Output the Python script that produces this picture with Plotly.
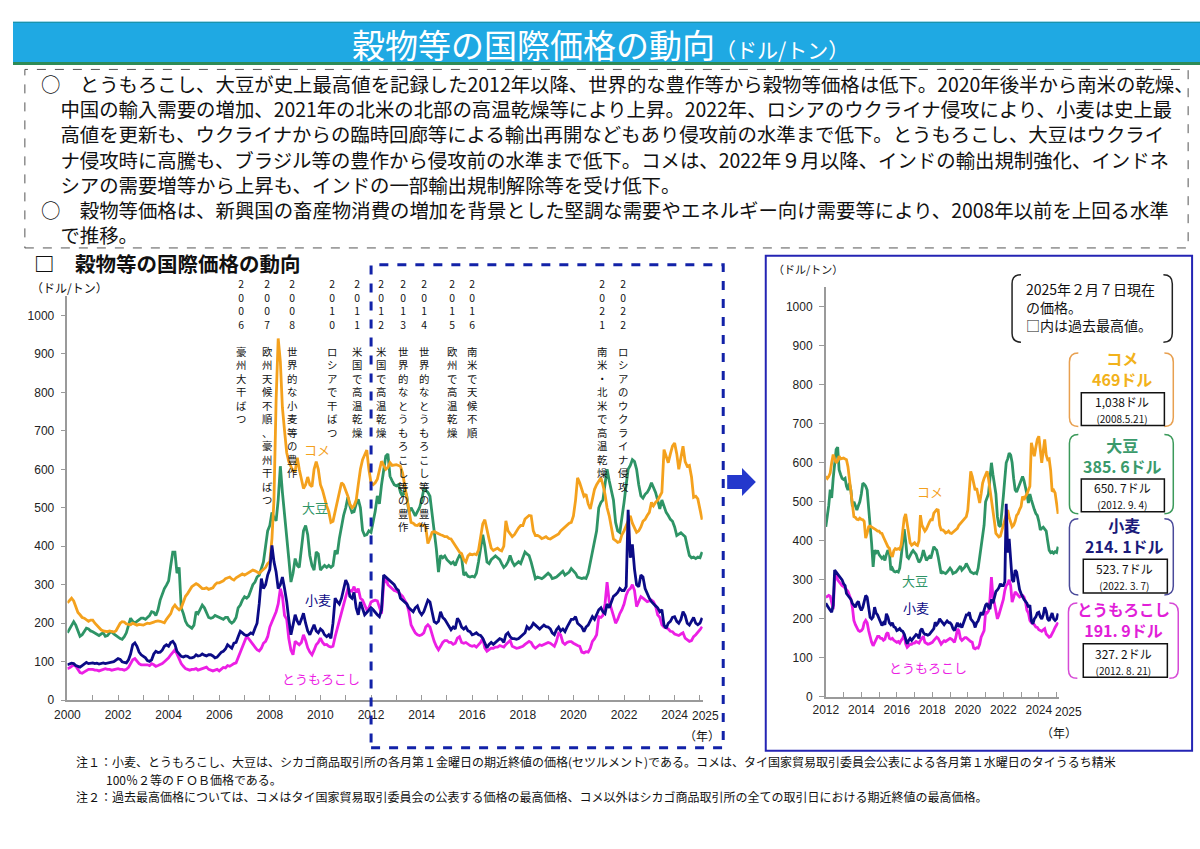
import pandas as pd
import plotly.graph_objects as go

# ---------------- DATA (monthly, Jan 2000 - Feb 2025, US$/t) ----------------
rice = [
 253,260,265,258,240,228,222,215,213,210,205,208,
 208,200,195,188,183,180,178,178,180,179,177,180,
 190,200,204,203,198,196,196,200,198,195,197,195,
 195,198,200,199,200,203,205,206,205,202,201,210,
 217,225,240,247,240,235,240,255,270,277,285,295,
 299,303,300,295,290,290,292,288,290,292,300,305,
 305,308,310,316,318,320,315,312,318,322,325,328,
 325,328,330,335,338,336,332,330,335,340,345,355,
 360,420,520,780,940,880,760,700,643,620,605,595,
 595,630,600,570,550,560,580,560,555,600,620,600,
 560,545,523,505,490,462,465,490,520,545,565,560,
 545,530,510,500,505,520,560,600,625,640,650,600,
 565,560,565,574,600,621,610,600,605,617,610,612,
 612,610,608,590,560,531,500,462,460,455,454,458,
 455,454,450,407,420,436,438,436,432,430,428,425,
 425,420,419,410,400,393,385,381,365,359,375,380,
 378,380,378,390,420,458,469,440,418,395,389,392,
 395,390,388,400,466,440,432,425,430,440,448,454,
 454,471,475,480,479,440,428,428,425,420,422,425,
 420,419,422,425,430,432,440,445,449,455,460,462,
 479,520,578,565,545,530,535,510,497,520,548,560,
 570,578,560,535,500,479,450,419,415,410,412,430,
 440,454,465,479,460,445,436,440,450,465,470,480,
 488,514,505,514,520,530,540,651,630,617,640,660,
 668,640,600,630,660,620,608,610,580,527,530,523,
 500,469,
]
soybean = [
 175,185,195,204,195,180,166,170,178,187,185,180,
 178,174,170,168,172,175,166,168,175,178,172,168,
 163,160,158,165,175,195,213,205,200,205,208,213,
 213,210,215,220,230,228,220,235,260,275,290,299,
 310,350,385,385,330,345,240,225,205,195,190,187,
 195,230,225,235,247,240,225,215,213,215,220,218,
 215,213,210,215,215,205,200,205,215,240,247,260,
 269,265,270,285,300,307,320,325,340,359,400,440,
 454,488,475,466,520,608,540,488,420,368,307,330,
 368,350,345,400,440,454,430,376,350,338,385,380,
 338,345,350,345,350,345,350,389,380,420,454,480,
 500,527,505,488,490,510,522,500,441,428,430,440,
 436,460,490,531,510,560,600,634,640,582,570,560,
 557,560,540,530,548,530,488,500,490,479,490,500,
 520,548,545,540,530,488,440,393,333,376,370,375,
 365,360,355,359,350,365,376,370,325,330,322,320,
 322,320,330,360,400,430,400,359,355,365,370,375,
 370,365,355,345,350,360,376,360,350,355,360,355,
 370,385,380,376,359,340,316,320,318,316,320,325,
 330,325,316,318,320,325,330,335,325,330,333,342,
 335,330,320,318,316,318,316,330,360,390,420,440,
 500,514,520,560,600,570,540,520,462,440,436,470,
 514,560,600,610,625,620,600,560,531,525,535,540,
 550,565,555,540,520,497,520,505,488,480,470,465,
 450,428,432,435,430,425,400,376,370,372,368,372,
 370,385,
]
wheat = [
 92,94,96,95,90,88,86,90,95,98,95,96,
 97,95,96,94,95,97,95,97,98,99,100,103,
 108,106,100,98,97,105,120,144,149,140,125,118,
 115,110,103,101,105,120,127,124,125,130,140,144,
 140,150,153,145,127,120,114,112,115,114,110,110,
 112,118,115,116,120,117,115,118,118,115,110,112,
 118,125,127,133,144,140,135,148,150,165,179,175,
 170,168,170,175,172,187,200,250,316,290,300,325,
 340,402,360,333,290,300,320,290,256,210,170,195,
 222,205,196,210,226,200,180,170,185,196,180,175,
 185,180,170,165,170,161,200,265,256,250,265,290,
 312,300,270,265,280,240,222,255,240,222,228,235,
 240,235,228,222,217,235,325,320,315,310,307,300,
 290,285,265,260,255,250,240,235,230,240,245,230,
 222,230,245,260,255,230,204,200,205,230,215,210,
 200,190,183,190,185,213,205,190,185,190,180,178,
 170,172,175,170,168,161,150,136,145,150,145,150,
 155,160,158,150,170,175,165,160,160,158,160,165,
 170,175,191,185,190,200,195,191,185,190,195,191,
 190,185,175,170,183,190,180,185,178,190,200,210,
 210,217,200,196,190,178,190,195,205,217,210,222,
 235,240,230,225,250,240,256,270,274,280,290,285,
 285,295,495,370,405,340,300,295,325,320,290,275,
 265,256,250,245,240,230,235,195,187,200,205,215,
 217,205,200,210,230,220,200,195,205,215,200,196,
 200,214,
]
corn = [
 82,84,88,92,88,80,72,70,74,78,80,80,
 80,78,78,76,78,80,82,80,80,78,80,82,
 82,80,80,78,80,85,95,105,108,100,95,92,
 92,93,92,90,95,92,88,90,92,95,100,105,
 110,118,125,131,120,105,95,88,82,80,78,80,
 80,82,78,80,82,85,86,80,78,76,78,80,
 76,80,85,84,90,88,92,95,97,110,127,136,
 150,166,160,153,145,140,131,128,135,148,153,165,
 190,204,215,230,250,290,270,220,210,160,130,118,
 153,148,144,150,170,155,136,125,118,130,144,150,
 161,150,144,145,140,138,140,165,187,210,230,250,
 270,290,285,283,295,280,290,265,260,245,235,239,
 255,258,260,258,240,225,300,320,300,295,290,285,
 283,280,275,270,260,250,230,196,185,175,170,168,
 170,175,190,196,190,170,153,140,131,140,150,155,
 155,150,150,145,148,161,165,150,148,150,145,142,
 140,142,138,145,150,161,136,127,130,135,135,138,
 138,142,140,138,145,150,155,140,138,135,136,138,
 140,145,150,153,150,140,135,140,144,142,145,146,
 150,148,145,140,153,174,170,150,145,150,152,152,
 148,144,142,140,125,123,126,125,135,153,160,170,
 217,215,220,250,307,256,240,220,200,210,225,235,
 250,273,285,290,300,285,243,255,269,265,260,256,
 258,260,256,245,222,215,196,190,188,185,179,178,
 172,170,168,172,175,161,158,153,155,165,170,178,
 183,191,
]
months = pd.date_range("2000-01-01", periods=len(rice), freq="MS")

series_names = ["大豆", "コメ", "とうもろこし", "小麦"]
left_years = list(range(2000, 2026))
left_labels = [str(y) if y % 2 == 0 else "" for y in left_years]
right_years = list(range(2012, 2026))
right_labels = [str(y) if y % 2 == 0 else "" for y in right_years]
last_year_label = "2025"
y_ticks = list(range(0, 1001, 100))

event_years = ["2006", "2007", "2008", "2010", "2011", "2012", "2013", "2014",
               "2015", "2016", "2021", "2022"]
event_texts = ["豪州大干ばつ", "欧州天候不順、豪州干ばつ", "世界的な小麦等の豊作",
               "ロシアで干ばつ", "米国で高温乾燥", "米国で高温乾燥",
               "世界的なとうもろこし等の豊作", "世界的なとうもろこし等の豊作",
               "欧州で高温乾燥", "南米で天候不順", "南米・北米で高温乾燥",
               "ロシアのウクライナ侵攻"]

latest_price = ["469ドル", "385. 6ドル", "214. 1ドル", "191. 9ドル"]
record_price = ["1,038ドル", "650. 7ドル", "523. 7ドル", "327. 2ドル"]
record_date = ["(2008.5.21)", "(2012. 9. 4)", "(2022. 3. 7)", "(2012. 8. 21)"]
box_names = ["コメ", "大豆", "小麦", "とうもろこし"]
note_lines = ["2025年２月７日現在", "の価格。", "□内は過去最高値。"]

body_lines = [
    "○　とうもろこし、大豆が史上最高値を記録した2012年以降、世界的な豊作等から穀物等価格は低下。2020年後半から南米の乾燥、",
    "　中国の輸入需要の増加、2021年の北米の北部の高温乾燥等により上昇。2022年、ロシアのウクライナ侵攻により、小麦は史上最",
    "　高値を更新も、ウクライナからの臨時回廊等による輸出再開などもあり侵攻前の水準まで低下。とうもろこし、大豆はウクライ",
    "　ナ侵攻時に高騰も、ブラジル等の豊作から侵攻前の水準まで低下。コメは、2022年９月以降、インドの輸出規制強化、インドネ",
    "　シアの需要増等から上昇も、インドの一部輸出規制解除等を受け低下。",
    "○　穀物等価格は、新興国の畜産物消費の増加を背景とした堅調な需要やエネルギー向け需要等により、2008年以前を上回る水準",
    "　で推移。",
]
footnotes = [
    "注１：小麦、とうもろこし、大豆は、シカゴ商品取引所の各月第１金曜日の期近終値の価格(セツルメント)である。コメは、タイ国家貿易取引委員会公表による各月第１水曜日のタイうるち精米",
    "100％２等のＦＯＢ価格である。",
    "注２：過去最高価格については、コメはタイ国家貿易取引委員会の公表する価格の最高価格、コメ以外はシカゴ商品取引所の全ての取引日における期近終値の最高価格。",
]

# ---------------- STYLE ----------------
W, H = 1200, 849
JP = "Noto Sans CJK JP"
NUM = "Liberation Sans, Arial, sans-serif"
C_RICE, C_SOY, C_WHEAT, C_CORN = "#F4A11D", "#2E9466", "#0B0B86", "#EC1FE4"
colors = {"コメ": C_RICE, "大豆": C_SOY, "小麦": C_WHEAT, "とうもろこし": C_CORN}
values = {"コメ": rice, "大豆": soybean, "小麦": wheat, "とうもろこし": corn}


def fx(x):
    return x / W


def fy(y):
    return 1 - y / H


def P(x, y):
    return f"{fx(x):.5f},{fy(y):.5f}"


fig = go.Figure()
i12 = 144
for name in series_names:
    fig.add_trace(go.Scatter(x=months, y=values[name], mode="lines",
                             line=dict(color=colors[name], width=2.8),
                             xaxis="x", yaxis="y", showlegend=False, hoverinfo="skip"))
for name in series_names:
    fig.add_trace(go.Scatter(x=months[i12:], y=values[name][i12:], mode="lines",
                             line=dict(color=colors[name], width=2.8),
                             xaxis="x2", yaxis="y2", showlegend=False, hoverinfo="skip"))

axis_common = dict(showgrid=False, zeroline=False, showline=True, linecolor="#9a9a9a",
                   linewidth=1.5, tickcolor="#9a9a9a", ticklen=5,
                   tickfont=dict(family=NUM, size=12, color="#222"))

fig.update_layout(
    width=W, height=H, margin=dict(l=0, r=0, t=0, b=0),
    paper_bgcolor="white", plot_bgcolor="white", showlegend=False,
    xaxis=dict(domain=[fx(55), fx(697.3)], anchor="y", type="date",
               range=["2000-01-01", "2025-02-10"], tickangle=0,
               tickvals=[f"{y}-01-01" for y in left_years], ticktext=left_labels,
               ticks="inside", ticklabelstandoff=3, **axis_common),
    yaxis=dict(domain=[fy(706), fy(298.6)], anchor="x", range=[0, 1050],
               tickvals=y_ticks, ticks="outside", ticklabelstandoff=4, **axis_common),
    xaxis2=dict(domain=[fx(821.7), fx(1057)], anchor="y2", type="date",
                range=["2012-01-01", "2025-02-10"], tickangle=0,
                tickvals=[f"{y}-01-01" for y in right_years], ticktext=right_labels,
                ticks="inside", ticklabelstandoff=1, **axis_common),
    yaxis2=dict(domain=[fy(702.7), fy(289.6)], anchor="x2", range=[0, 1050],
                tickvals=y_ticks, ticks="outside", ticklabelstandoff=4, **axis_common),
)

shapes = []
anns = []


def rect(x0, y0, x1, y1, color=None, width=1, dash=None, fill=None):
    shapes.append(dict(type="rect", xref="paper", yref="paper",
                       x0=fx(x0), x1=fx(x1), y0=fy(y1), y1=fy(y0),
                       line=dict(color=color or "rgba(0,0,0,0)", width=width if color else 0,
                                 dash=dash),
                       fillcolor=fill or "rgba(0,0,0,0)"))


def hline(x0, x1, y, color, width):
    shapes.append(dict(type="line", xref="paper", yref="paper", x0=fx(x0), x1=fx(x1),
                       y0=fy(y), y1=fy(y), line=dict(color=color, width=width)))


def bracket(x0, x1, y0, y1, color, r=8, w=1.5):
    left = f"M{P(x0 + r, y0)} Q{P(x0, y0)} {P(x0, y0 + r)} L{P(x0, y1 - r)} Q{P(x0, y1)} {P(x0 + r, y1)}"
    right = f"M{P(x1 - r, y0)} Q{P(x1, y0)} {P(x1, y0 + r)} L{P(x1, y1 - r)} Q{P(x1, y1)} {P(x1 - r, y1)}"
    shapes.append(dict(type="path", xref="paper", yref="paper", path=left + " " + right,
                       line=dict(color=color, width=w)))


def ann(x, y, text, size=12, color="#111", xanchor="center", yanchor="middle",
        family=JP, bold=False, align="center"):
    t = f"<b>{text}</b>" if bold else text
    anns.append(dict(x=fx(x), y=fy(y), xref="paper", yref="paper", text=t, showarrow=False,
                     font=dict(size=size, color=color, family=family), align=align,
                     xanchor=xanchor, yanchor=yanchor, borderpad=0))


# title bar
rect(0, 22, 1200, 64, fill="#1FA9E3")
hline(0, 1200, 22.5, "#1a8fa0", 1)
hline(0, 1200, 64, "#2E8B57", 3)
ann(594, 44, "穀物等の国際価格の動向<span style='font-size:21px'>（ドル/トン）</span>",
    size=33, color="white")

# summary text box (one multi-line text block)
rect(12, 70, 1188, 250, color="#555", width=1, dash="dash")
ann(27, 160, "<br>".join(body_lines), size=19.4, xanchor="left", align="left")

# section heading
ann(20, 265, "□　穀物等の国際価格の動向", size=20.5, xanchor="left", bold=True)
ann(57, 290, "（ドル/トン）", size=12)
ann(697, 742, "（年）", size=12)
ann(700, 722, last_year_label, size=12, family=NUM, color="#222")

# vertical event columns: one stacked text per column (year, gap, description)
col_x = [231, 257, 283, 323, 348, 373, 394, 415, 444, 465, 596, 617]
for x, yr, txt in zip(col_x, event_years, event_texts):
    stacked = "<br>".join(list(yr)) + "<br> <br>" + "<br>".join(list(txt))
    ann(x, 277, stacked, size=10.4, color="#111", yanchor="top")

# left series labels
for name, (x, y) in zip(["コメ", "大豆", "小麦", "とうもろこし"],
                        [(307, 453), (305, 512), (308, 604), (311, 684)]):
    ann(x, y, name, size=13, color=colors[name])

# dashed zoom box and arrow
rect(362, 267, 718, 754, color="#1222A8", width=3, dash="dash")
shapes.append(dict(type="path", xref="paper", yref="paper",
                   path=f"M{P(722,479)} L{P(737,479)} L{P(737,472)} L{P(751,486)} L{P(737,500)} L{P(737,493)} L{P(722,493)} Z",
                   fillcolor="#2438CC", line=dict(width=0)))

# right panel
rect(761, 258, 1192, 757, color="#2424B4", width=2)
ann(804, 271, "（ドル/トン）", size=11)
ann(1057, 739, "（年）", size=12)
ann(1067, 718, last_year_label, size=12, family=NUM, color="#222")
for name, (x, y) in zip(["コメ", "大豆", "小麦", "とうもろこし"],
                        [(927, 496), (912, 585), (913, 613), (925, 673)]):
    ann(x, y, name, size=13, color=colors[name])

bracket(1010, 1172, 277, 345, "#222", r=9)
ann(1023, 309.5, "<br>".join(note_lines), size=14, xanchor="left", align="left")

grp = [
    dict(b=(1068, 1173, 356, 430), bc="#E8A050", tc="#F2B21B", ny=371.5,
         box=(1080, 396, 1164, 429), ry=413, cx=1121),
    dict(b=(1068, 1173, 438, 518), bc="#3C9A5B", tc="#3A9A6B", ny=459.5,
         box=(1080, 483, 1164, 516), ry=500, cx=1122),
    dict(b=(1068, 1173, 523, 600), bc="#4A4A9A", tc="#1A1A7A", ny=540,
         box=(1082, 564, 1167, 598), ry=581.5, cx=1124),
    dict(b=(1067, 1178, 608, 684), bc="#D64AD6", tc="#E11FD8", ny=625,
         box=(1082, 649, 1167, 683), ry=666.5, cx=1123),
]
for g, nm, lp, rp, rd in zip(grp, box_names, latest_price, record_price, record_date):
    bracket(*g["b"], g["bc"], r=9)
    nm_html = nm if nm != "とうもろこし" else f"<span style='font-size:15.5px'>{nm}</span>"
    ann(g["cx"], g["ny"], f"{nm_html}<br>{lp}", size=16, color=g["tc"], bold=True)
    bx = g["box"]
    rect(bx[0], bx[1], bx[2], bx[3], color="#111", width=1.5)
    ann(g["cx"], g["ry"], f"{rp}<br><span style='font-size:10px'>{rd}</span>", size=12)

# footnotes
ann(63, 767.5, footnotes[0], size=12, xanchor="left")
ann(93, 785.5, footnotes[1], size=12, xanchor="left")
ann(63, 803.5, footnotes[2], size=12, xanchor="left")

fig.update_layout(shapes=shapes, annotations=anns)
fig.write_html(
    "out.html",
    config={"displayModeBar": False, "displaylogo": False},
    post_script=(
        "document.documentElement.style.margin='0';"
        "document.documentElement.style.overflow='hidden';"
        "document.body.style.margin='0';document.body.style.padding='0';"
        "document.body.style.overflow='hidden';window.scrollTo(0,0);"
    ),
)
